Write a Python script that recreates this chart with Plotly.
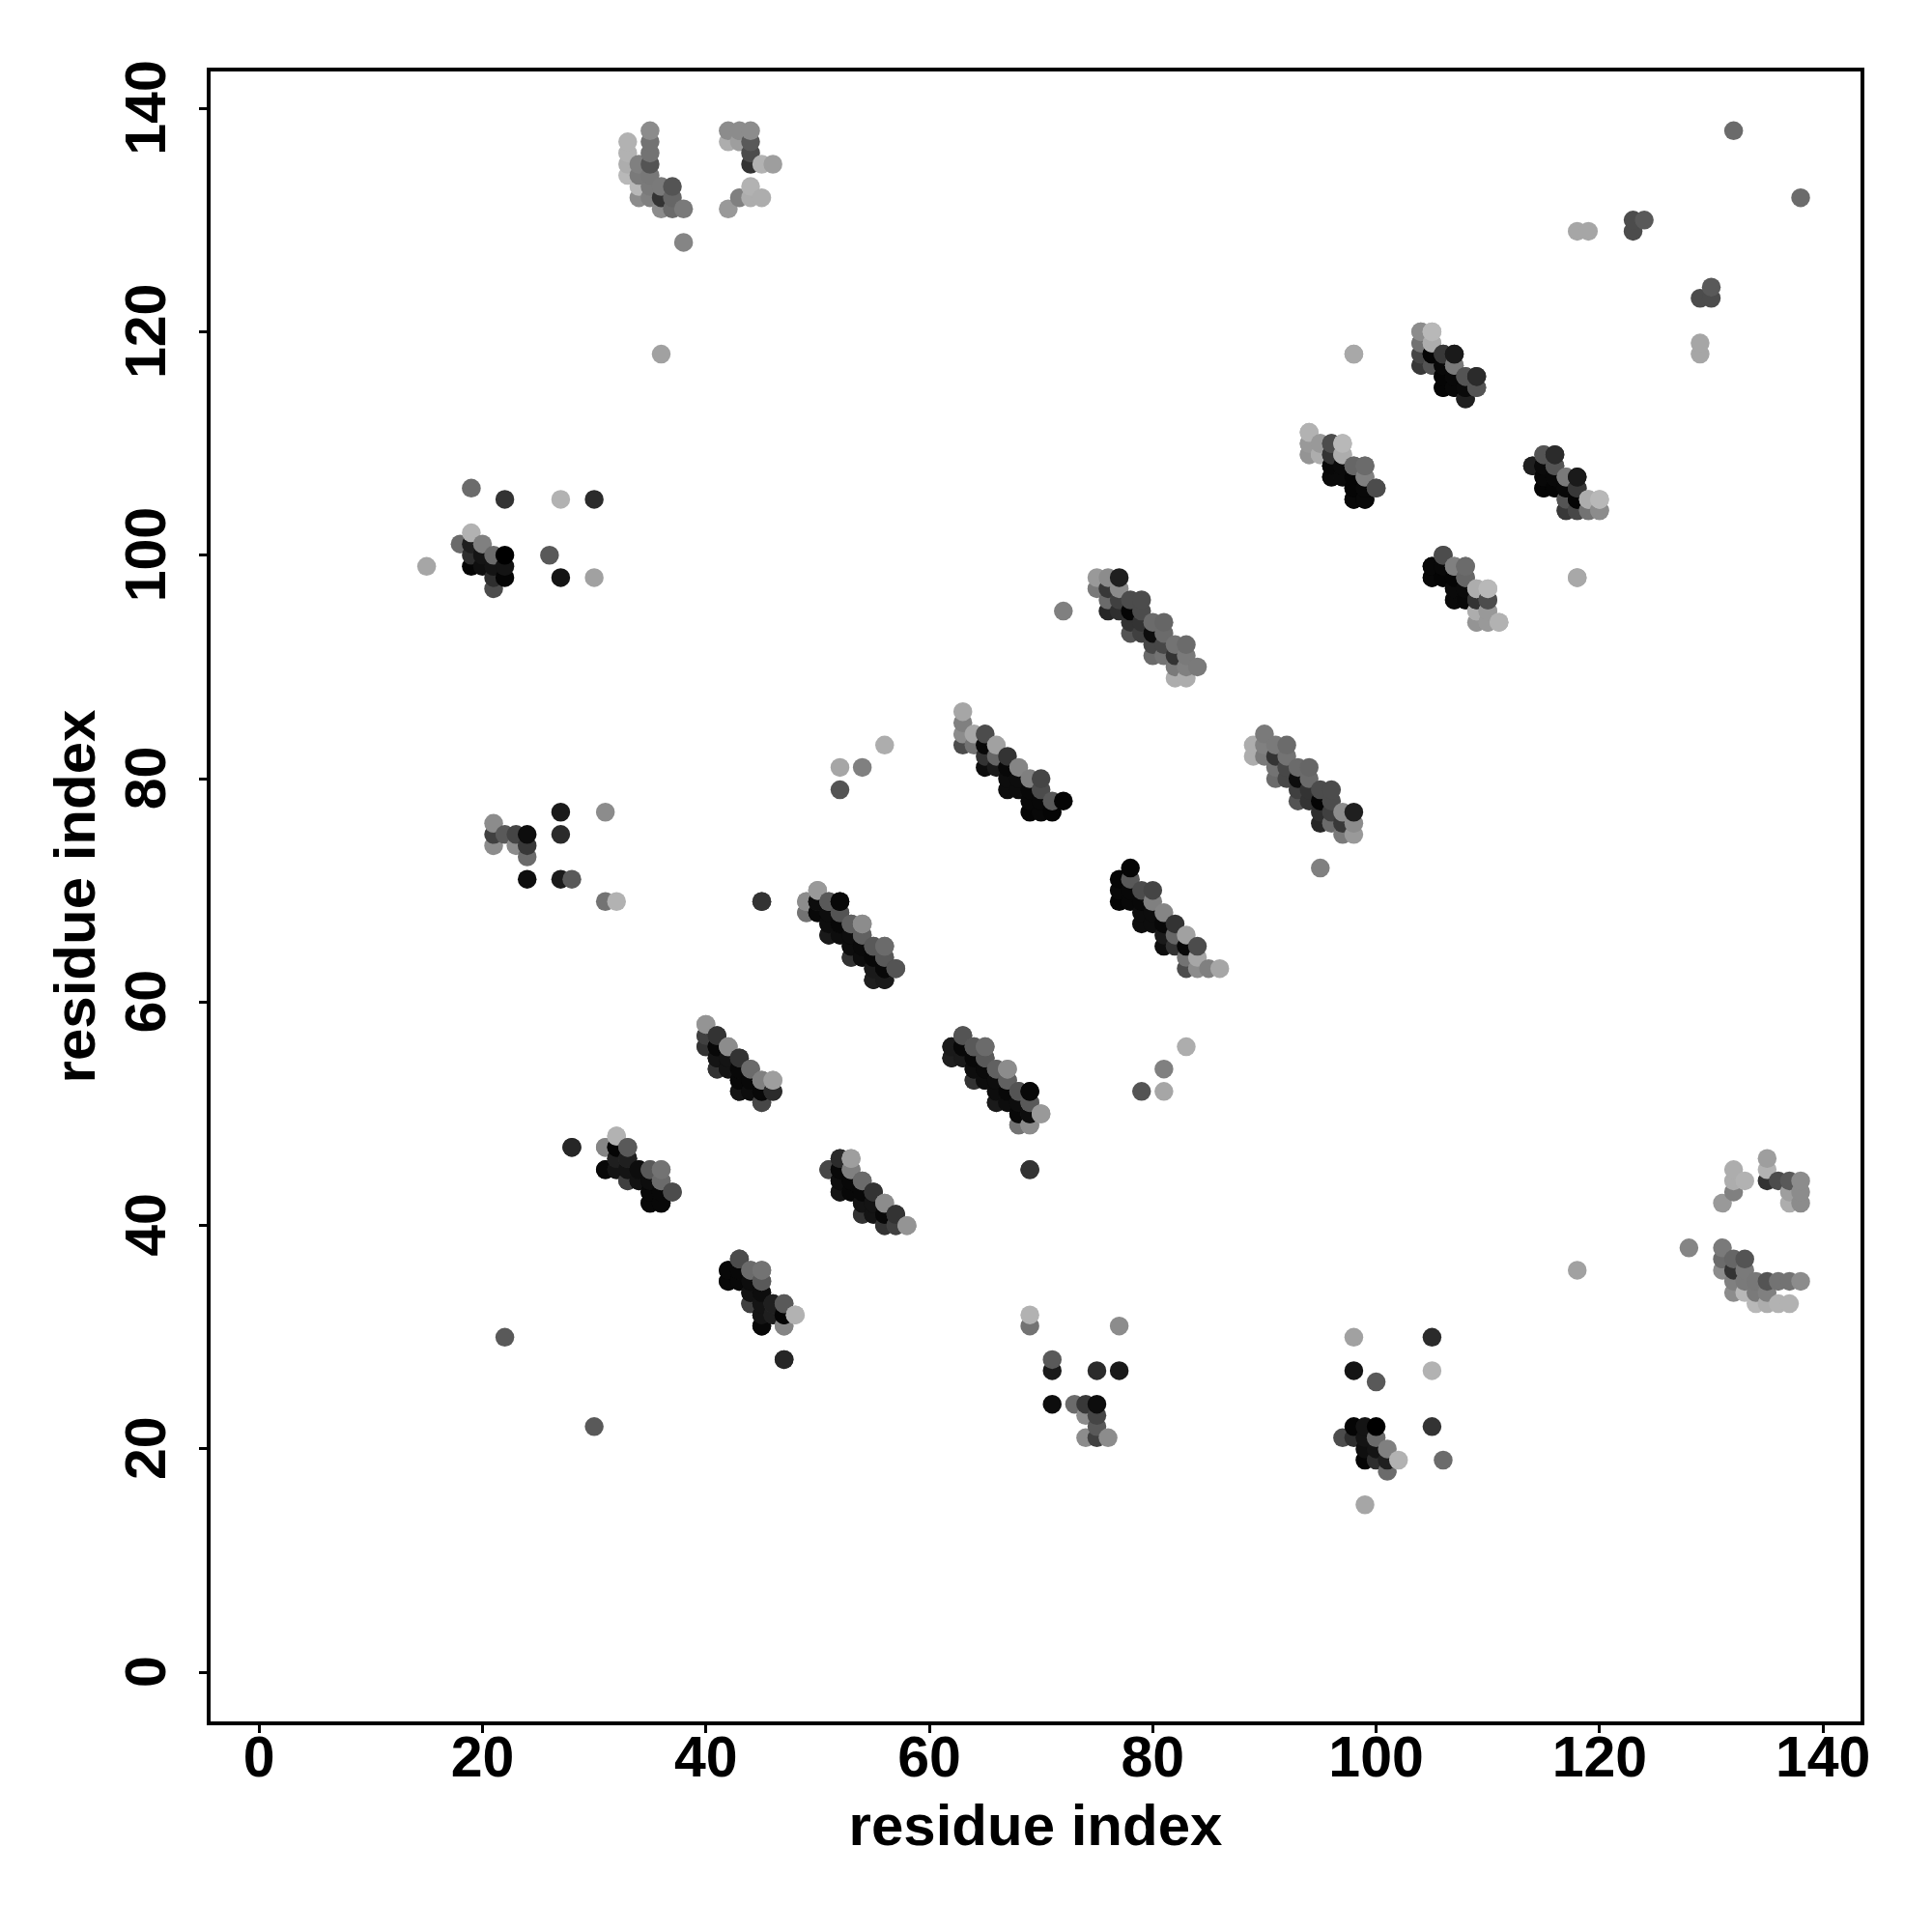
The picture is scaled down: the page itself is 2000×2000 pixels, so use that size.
import plotly.graph_objects as go

# Upper-triangle contacts, one list per block: residue_i, residue_j, grey level (0 black .. 1 white)
block_a = [(33,137,.70),(33,136,.70),(33,135,.68),(33,134,.72),(34,135,.50),(34,134,.48),(34,133,.72),(34,132,.55),
 (35,138,.55),(35,137,.45),(35,136,.45),(35,135,.33),(35,134,.47),(35,133,.48),(35,132,.50),(36,133,.48),(36,132,.20),(36,131,.55),(36,118,.63),
 (37,133,.33),(37,132,.40),(37,131,.42),(38,131,.48),(38,128,.52),(42,138,.55),(42,137,.68),(42,131,.60),(43,138,.55),(43,137,.62),(43,132,.50),
 (44,138,.55),(44,137,.35),(44,136,.30),(44,135,.20),(44,133,.70),(44,132,.68),(45,135,.70),(45,132,.68),(46,135,.62)]
block_b = [(104,120,.53),(105,120,.72),(104,119,.40),(105,119,.68),(104,118,.30),(105,118,.03),(106,118,.25),(107,118,.10),(104,117,.22),(105,117,.20),
 (106,117,.05),(107,117,.45),(106,116,.04),(107,116,.05),(108,116,.30),(109,116,.15),(106,115,.03),(107,115,.03),(108,115,.02),(109,115,.33),(108,114,.12),(98,118,.66)]
block_c = [(94,111,.70),(94,110,.60),(94,109,.65),(95,110,.60),(95,109,.72),(96,110,.33),(96,109,.25),(96,108,.10),(97,110,.70),(97,109,.65),(97,108,.06),
 (96,107,.05),(97,107,.07),(98,108,.42),(99,108,.42),(98,107,.05),(99,107,.50),(98,106,.03),(99,106,.03),(100,106,.28),(98,105,.02),(99,105,.02)]
block_d = [(114,108,.12),(115,109,.33),(116,109,.17),(115,108,.04),(116,108,.33),(115,107,.03),(116,107,.03),(117,107,.48),(118,107,.10),(115,106,.02),(116,106,.02),
 (117,106,.03),(118,106,.22),(117,105,.33),(118,105,.02),(119,105,.68),(120,105,.72),(117,104,.22),(118,104,.28),(119,104,.45),(120,104,.55)]
block_e = [(106,100,.30),(105,99,.03),(106,99,.03),(107,99,.50),(108,99,.42),(105,98,.03),(106,98,.02),(107,98,.02),(108,98,.40),(107,97,.04),(108,97,.04),
 (109,97,.68),(110,97,.72),(107,96,.04),(108,96,.03),(109,96,.20),(110,96,.30),(109,95,.68),(110,95,.60),(109,94,.58),(110,94,.60),(111,94,.70)]
block_f = [(75,98,.60),(76,98,.55),(77,98,.12),(75,97,.48),(76,97,.22),(77,97,.55),(76,96,.42),(77,96,.25),(78,96,.30),(79,96,.30),(76,95,.15),(77,95,.18),(78,95,.02),
 (79,95,.30),(78,94,.20),(79,94,.20),(80,94,.42),(81,94,.40),(78,93,.33),(79,93,.25),(80,93,.05),(81,93,.42),(80,92,.28),(81,92,.28),(82,92,.45),(83,92,.42),
 (80,91,.42),(81,91,.45),(82,91,.20),(83,91,.48),(82,90,.48),(83,90,.50),(84,90,.48),(82,89,.68),(83,89,.68),(72,95,.50)]
block_g = [(63,86,.65),(63,85,.50),(63,84,.55),(64,84,.65),(65,84,.30),(63,83,.30),(64,83,.45),(65,83,.03),(66,83,.63),(65,82,.20),(66,82,.40),(67,82,.20),(65,81,.05),
 (66,81,.10),(67,81,.03),(68,81,.52),(67,80,.05),(68,80,.05),(69,80,.50),(70,80,.27),(67,79,.05),(68,79,.05),(69,79,.03),(70,79,.30),(69,78,.03),(70,78,.03),
 (71,78,.35),(72,78,.02),(69,77,.02),(70,77,.03),(71,77,.02)]
block_i = [(50,70,.60),(49,69,.60),(50,69,.15),(51,69,.45),(52,69,.05),(49,68,.45),(50,68,.05),(51,68,.05),(52,68,.33),(51,67,.10),(52,67,.07),(53,67,.33),(54,67,.60),
 (51,66,.10),(52,66,.10),(53,66,.03),(54,66,.40),(53,65,.08),(54,65,.03),(55,65,.35),(56,65,.42),(53,64,.22),(54,64,.03),(55,64,.05),(56,64,.40),(55,63,.10),(56,63,.03),
 (57,63,.30),(55,62,.12),(56,62,.12),(45,69,.20)]
block_j = [(63,57,.33),(62,56,.10),(63,56,.03),(64,56,.35),(65,56,.42),(62,55,.12),(63,55,.10),(64,55,.03),(65,55,.35),(64,54,.05),(65,54,.04),(66,54,.38),(67,54,.55),
 (64,53,.20),(65,53,.05),(66,53,.05),(67,53,.38),(66,52,.05),(67,52,.03),(68,52,.33),(69,52,.03),(66,51,.10),(67,51,.05),(68,51,.05),(69,51,.35),(68,50,.03),(69,50,.05),
 (70,50,.60),(68,49,.45),(69,49,.55),(69,45,.20),(52,79,.33),(54,81,.50),(52,81,.65),(56,83,.68)]
block_k = [(52,46,.20),(53,46,.62),(51,45,.25),(52,45,.03),(53,45,.50),(52,44,.04),(53,44,.03),(54,44,.40),(52,43,.10),(53,43,.05),(54,43,.05),(55,43,.20),(54,42,.05),
 (55,42,.05),(56,42,.55),(54,41,.17),(55,41,.05),(56,41,.04),(57,41,.22),(56,40,.20),(57,40,.20),(58,40,.60)]
block_l = [(40,58,.58),(40,57,.25),(41,57,.20),(40,56,.20),(41,56,.03),(42,56,.55),(41,55,.08),(42,55,.08),(43,55,.20),(41,54,.20),(42,54,.08),(43,54,.03),(44,54,.42),
 (43,53,.03),(44,53,.03),(45,53,.50),(46,53,.62),(43,52,.08),(44,52,.05),(45,52,.03),(46,52,.17),(45,51,.28)]
block_m = [(28,47,.15),(32,48,.70),(31,47,.55),(32,47,.03),(33,47,.38),(32,46,.15),(33,46,.20),(31,45,.04),(32,45,.06),(33,45,.10),(34,45,.07),(35,45,.35),(36,45,.45),
 (33,44,.25),(34,44,.07),(35,44,.03),(36,44,.42),(35,43,.04),(36,43,.05),(37,43,.28),(35,42,.03),(36,42,.03)]
block_n = [(43,37,.30),(42,36,.03),(43,36,.03),(44,36,.42),(45,36,.45),(42,35,.03),(43,35,.03),(44,35,.05),(45,35,.35),(44,34,.07),(45,34,.05),(44,33,.25),(45,33,.08),
 (46,33,.12),(47,33,.35),(45,32,.08),(46,32,.12),(47,32,.02),(48,32,.70),(45,31,.03),(47,31,.52),(47,28,.15)]
block_o = [(19,106,.42),(22,105,.20),(27,105,.70),(30,105,.17),(19,102,.70),(18,101,.42),(19,101,.12),(20,101,.50),(19,100,.18),(20,100,.08),(21,100,.42),(22,100,.00),
 (15,99,.65),(19,99,.02),(20,99,.06),(21,99,.08),(22,99,.08),(21,98,.18),(22,98,.02),(21,97,.30),(26,100,.35),(27,98,.08),(30,98,.63)]
block_p = [(21,76,.55),(21,75,.25),(22,75,.35),(23,75,.27),(24,75,.05),(21,74,.55),(23,74,.55),(24,74,.22),(24,73,.42),(24,71,.05),(27,77,.10),(27,75,.17),(27,71,.10),
 (28,71,.35),(31,77,.55),(31,69,.45),(32,69,.70)]
block_q = [(118,129,.65),(119,129,.65),(123,129,.30),(123,130,.30),(124,130,.35),(132,138,.42),(22,30,.35),(118,98,.66)]

blocks = [block_a, block_b, block_c, block_d, block_e, block_f, block_g, block_i, block_j,
          block_k, block_l, block_m, block_n, block_o, block_p, block_q]
tick_values = [0, 20, 40, 60, 80, 100, 120, 140]
axis_title = "residue index"

# the map is symmetric: every contact (i, j) is drawn at both (i, j) and (j, i)
points = []
for block in blocks:
    for i, j, g in block:
        points.append((i, j, g))
        points.append((j, i, g))
points.sort(key=lambda p: (p[0], p[1]))

xs = [p[0] for p in points]
ys = [p[1] for p in points]
cols = [f"rgb({round(p[2]*255)},{round(p[2]*255)},{round(p[2]*255)})" for p in points]

fig = go.Figure(go.Scatter(x=xs, y=ys, mode="markers",
                           marker=dict(color=cols, size=19.5, line=dict(width=0), opacity=1)))
FONT = "Liberation Sans"
title_font = dict(family=FONT, size=60, color="black", weight="bold")
axis_common = dict(tickvals=tick_values, ticks="outside", ticklen=8, tickwidth=3, tickcolor="black",
                   showgrid=False, zeroline=False, showline=True, linecolor="black", linewidth=3.5, mirror=True,
                   tickfont=dict(family=FONT, size=59, color="black", weight="bold"))
fig.update_xaxes(range=[-4.34, 143.36], title=dict(text=axis_title, font=title_font, standoff=18),
                 ticklabelstandoff=-26, **axis_common)
fig.update_yaxes(range=[-4.39, 143.3], title=dict(text=axis_title, font=title_font, standoff=1),
                 tickangle=-90, ticklabelstandoff=12,
                 ticktext=[f"{v}\u00a0" for v in tick_values], **axis_common)
fig.update_layout(width=2000, height=2000, margin=dict(l=209.5, r=81.5, t=65.5, b=225.5, autoexpand=False),
                  paper_bgcolor="white", plot_bgcolor="white", showlegend=False)
fig.write_html("out.html")
